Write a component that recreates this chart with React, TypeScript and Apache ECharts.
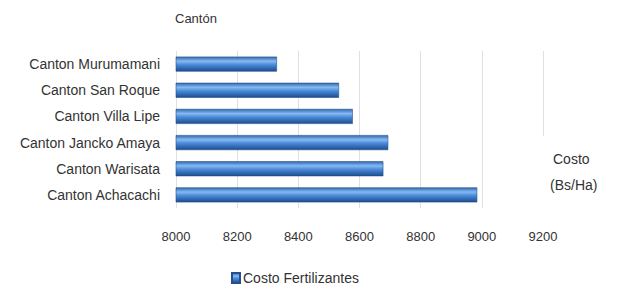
import React, { useEffect, useRef } from "react";
import * as echarts from "echarts";

const categories = [
  "Canton Achacachi",
  "Canton Warisata",
  "Canton Jancko Amaya",
  "Canton Villa Lipe",
  "Canton San Roque",
  "Canton Murumamani",
];
const costValues = [8985, 8678, 8694, 8578, 8533, 8330];
const seriesName = "Costo Fertilizantes";
const axisMin = 8000;
const axisMax = 9200;
const axisStep = 200;

const FONT = "Liberation Sans";

export default function App() {
  const ref = useRef<HTMLDivElement>(null);
  useEffect(() => {
    if (!ref.current) return;
    const chart = echarts.init(ref.current, null, { renderer: "svg" });
    chart.setOption({
      animation: false,
      backgroundColor: "#ffffff",
      grid: { left: 176, right: 75, top: 51, bottom: 82, containLabel: false },
      legend: {
        bottom: 0,
        left: 226,
        itemWidth: 8,
        itemHeight: 10,
        itemGap: 4,
        icon: "rect",
        textStyle: { fontFamily: FONT, fontSize: 14, color: "#333", padding: [0, 0, 0, -2] },
        data: [seriesName],
      },
      xAxis: {
        type: "value",
        min: axisMin,
        max: axisMax,
        interval: axisStep,
        axisLine: { show: false },
        axisTick: { show: false },
        splitLine: { show: true, lineStyle: { color: "#dde1e6", width: 1 } },
        axisLabel: {
          fontFamily: FONT,
          fontSize: 13,
          color: "#333",
          margin: 22,
          formatter: (v: number) => String(v),
        },
      },
      yAxis: {
        type: "category",
        data: categories,
        axisLine: { show: false },
        axisTick: { show: false },
        axisLabel: { fontFamily: FONT, fontSize: 14, color: "#333", margin: 16 },
      },
      graphic: [
        {
          type: "text",
          left: 175,
          top: 12,
          style: { text: "Cantón", fontFamily: FONT, fontSize: 13, fill: "#333" },
        },
        {
          type: "rect",
          shape: { x: 536, y: 136, width: 80, height: 80 },
          style: { fill: "#ffffff" },
          z: 10,
        },
        {
          type: "text",
          left: 553,
          top: 152,
          z: 11,
          style: { text: "Costo", fontFamily: FONT, fontSize: 14, fill: "#333" },
        },
        {
          type: "text",
          left: 550,
          top: 178,
          z: 11,
          style: { text: "(Bs/Ha)", fontFamily: FONT, fontSize: 14, fill: "#333" },
        },
      ],
      series: [
        {
          name: seriesName,
          type: "bar",
          data: costValues,
          barWidth: 15,
          itemStyle: {
            color: new echarts.graphic.LinearGradient(0, 0, 0, 1, [
              { offset: 0, color: "#2f6ab0" },
              { offset: 0.3, color: "#86baf2" },
              { offset: 0.55, color: "#4a8ad8" },
              { offset: 1, color: "#1c4c8e" },
            ]),
            borderColor: "#23508c",
            borderWidth: 0.6,
          },
        },
      ],
    });
    return () => chart.dispose();
  }, []);
  return (
    <div
      ref={ref}
      style={{ position: "fixed", left: 0, top: 0, width: 618, height: 290 }}
    />
  );
}
